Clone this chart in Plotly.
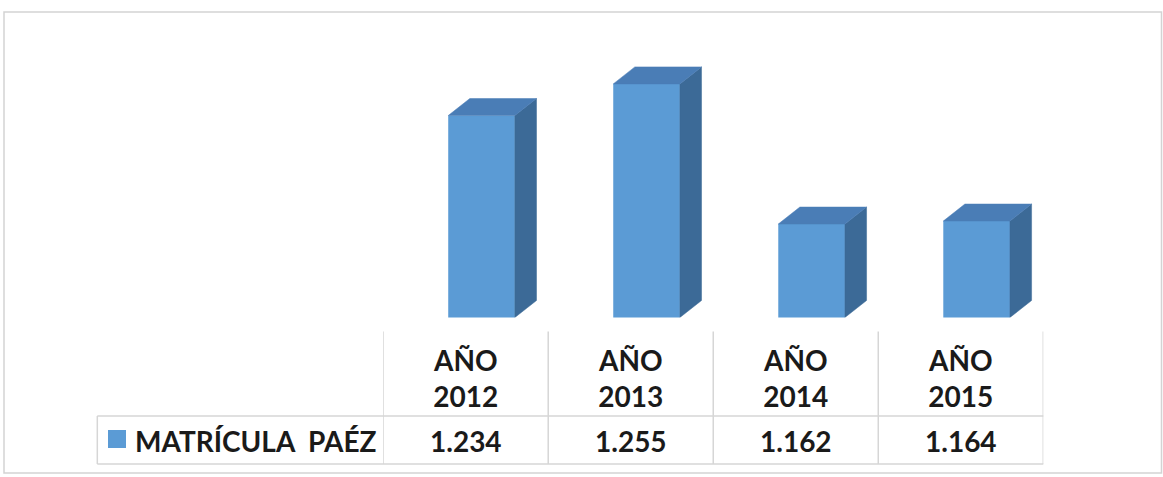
import plotly.graph_objects as go

# --- data -------------------------------------------------------------
years = ["2012", "2013", "2014", "2015"]
header_prefix = "AÑO"
series_name = "MATRÍCULA\u00a0\u00a0PAÉZ"
matricula = [1234, 1255, 1162, 1164]

# --- styling ------------------------------------------------------------
W, H = 1163, 477
FRONT = "#5b9bd5"
SIDE = "#3c6a97"
TOP = "#4a7db6"
GRID = "#d6d6d6"
FRAME = "#d3d3d3"
TEXT = "#1a1a1a"
FONT = "Lato"
FONT_SIZE = 28

Y_MIN, Y_MAX = 1100, 1300      # value axis (hidden)
BAR_W = 0.404                  # front face width, category units
BAR_OFF = -0.106               # front face left edge relative to category
DEPTH_X = 0.131                # 3-D depth, category units
DEPTH_Y = 11.3                 # 3-D depth, value units


def px(x):
    return x / W


def py(y):
    return 1 - y / H


X_DOMAIN = [px(383.2), px(1043.3)]
Y_DOMAIN = [py(317.5), py(16.1)]


def fmt(v):
    return f"{v:,}".replace(",", ".")


fig = go.Figure()

# front faces
fig.add_trace(go.Bar(
    x=list(range(len(years))), y=matricula,
    width=BAR_W, offset=BAR_OFF,
    marker=dict(color=FRONT, line=dict(width=0)),
    name=series_name, hoverinfo="skip",
))

# side and top faces, derived from the same values
for i, v in enumerate(matricula):
    xl = i + BAR_OFF
    xr = xl + BAR_W
    fig.add_trace(go.Scatter(
        x=[xr, xr + DEPTH_X, xr + DEPTH_X, xr, xr],
        y=[Y_MIN, Y_MIN + DEPTH_Y, v + DEPTH_Y, v, Y_MIN],
        mode="lines", fill="toself", fillcolor=SIDE,
        line=dict(color=SIDE, width=0.5), hoverinfo="skip",
    ))
    fig.add_trace(go.Scatter(
        x=[xl, xl + DEPTH_X, xr + DEPTH_X, xr, xl],
        y=[v, v + DEPTH_Y, v + DEPTH_Y, v, v],
        mode="lines", fill="toself", fillcolor=TOP,
        line=dict(color=TOP, width=0.5), hoverinfo="skip",
    ))

shapes = []
# outer chart frame
shapes.append(dict(type="rect", xref="paper", yref="paper",
                   x0=px(4), x1=px(1161.5), y0=py(473), y1=py(12),
                   line=dict(color=FRAME, width=1.5), layer="below"))
# data-table grid
for i in range(len(years) + 1):
    shapes.append(dict(type="line", xref="x", yref="paper",
                       x0=i - 0.5, x1=i - 0.5, y0=py(331.5), y1=py(464),
                       line=dict(color=GRID, width=1.5)))
shapes.append(dict(type="line", xref="paper", yref="paper",
                   x0=px(97.3), x1=px(97.3), y0=py(416), y1=py(464),
                   line=dict(color=GRID, width=1.5)))
for yy in (416, 464):
    shapes.append(dict(type="line", xref="paper", yref="paper",
                       x0=px(97.3), x1=X_DOMAIN[1], y0=py(yy), y1=py(yy),
                       line=dict(color=GRID, width=1.5)))
# legend key
shapes.append(dict(type="rect", xref="paper", yref="paper",
                   x0=px(108), x1=px(126), y0=py(448), y1=py(430),
                   fillcolor=FRONT, line=dict(width=0)))

font = dict(family=FONT, size=FONT_SIZE, color=TEXT, weight="bold")
annotations = []
for i, (yr, v) in enumerate(zip(years, matricula)):
    annotations.append(dict(x=i, y=py(378), xref="x", yref="paper",
                            text=f"{header_prefix}<br>{yr}", showarrow=False,
                            xanchor="center", yanchor="middle", font=font))
    annotations.append(dict(x=i, y=py(440.5), xref="x", yref="paper",
                            text=fmt(v), showarrow=False,
                            xanchor="center", yanchor="middle", font=font))
annotations.append(dict(x=px(133), y=py(440.5), xref="paper", yref="paper",
                        text=series_name, showarrow=False,
                        xanchor="left", yanchor="middle", font=font))

fig.update_layout(
    width=W, height=H,
    margin=dict(l=0, r=0, t=0, b=0),
    paper_bgcolor="white", plot_bgcolor="white",
    showlegend=False,
    xaxis=dict(domain=X_DOMAIN, range=[-0.5, len(years) - 0.5],
               visible=False, fixedrange=True),
    yaxis=dict(domain=Y_DOMAIN, range=[Y_MIN, Y_MAX],
               visible=False, fixedrange=True),
    shapes=shapes, annotations=annotations,
)

fig.write_html("out.html")
